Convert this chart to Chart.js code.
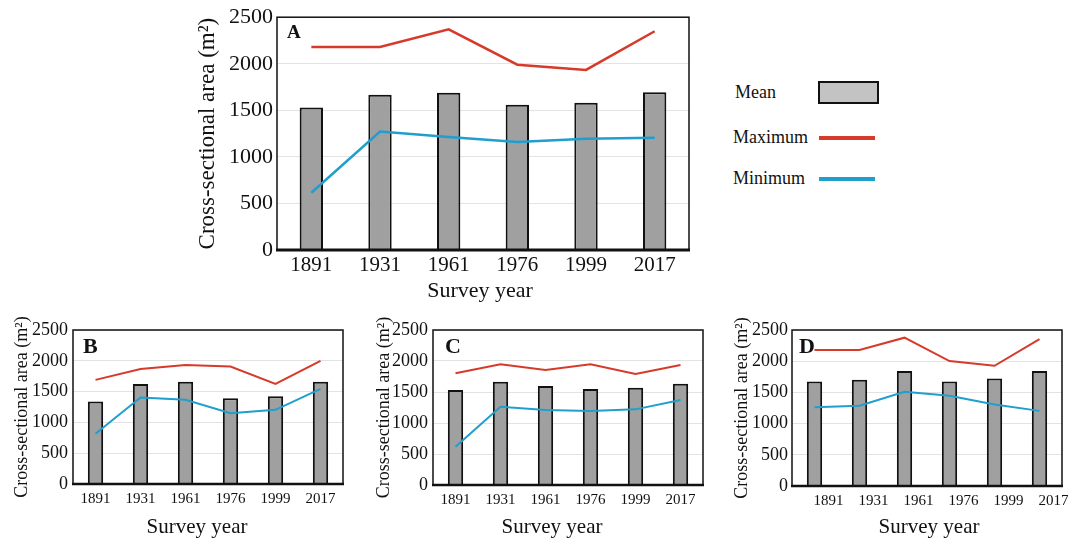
<!DOCTYPE html>
<html lang="en">
<head>
    <meta charset="UTF-8">
    <title>Cross-sectional area by survey year</title>
    <script src="https://cdn.jsdelivr.net/npm/chart.js"></script>
    <style>
        html, body { margin: 0; padding: 0; background: #fff; overflow: hidden; }
        body { width: 1072px; height: 539px; position: relative; font-family: 'Liberation Serif', 'Times New Roman', serif; color: #111; }
        canvas { position: absolute; }
        .legend-text { position: absolute; font-size: 18px; line-height: 20px; }
        .legend-box { position: absolute; left: 818px; top: 81px; width: 57px; height: 19px; background: #c3c3c3; border: 2px solid #111; }
        .legend-line { position: absolute; left: 819px; width: 56px; height: 4px; }
    </style>
</head>
<body>
    <canvas id="chartA"></canvas>
    <canvas id="chartB"></canvas>
    <canvas id="chartC"></canvas>
    <canvas id="chartD"></canvas>

    <!-- legend -->
    <div class="legend-text" style="left:735px; top:82px;">Mean</div>
    <div class="legend-box"></div>
    <div class="legend-text" style="left:733px; top:127px;">Maximum</div>
    <div class="legend-line" style="top:136px; background:#d63a2a;"></div>
    <div class="legend-text" style="left:733px; top:168px;">Minimum</div>
    <div class="legend-line" style="top:177px; background:#1f9fcd;"></div>

    <script>
        // Data
        const years = ['1891', '1931', '1961', '1976', '1999', '2017'];

        const meanA = [1530, 1667, 1688, 1561, 1582, 1695];
        const maxA  = [2180, 2180, 2370, 1990, 1934, 2349];
        const minA  = [615, 1273, 1213, 1160, 1195, 1206];

        const meanB = [1340, 1625, 1658, 1393, 1425, 1658];
        const maxB  = [1690, 1868, 1933, 1906, 1625, 1998];
        const minB  = [815, 1404, 1366, 1150, 1204, 1544];

        const meanC = [1532, 1667, 1597, 1548, 1570, 1634];
        const maxC  = [1801, 1946, 1855, 1946, 1790, 1935];
        const minC  = [618, 1263, 1210, 1194, 1220, 1371];

        const meanD = [1676, 1702, 1842, 1676, 1724, 1842];
        const maxD  = [2179, 2179, 2377, 2002, 1927, 2355];
        const minD  = [1263, 1285, 1510, 1445, 1306, 1204];

        const yTicks = [0, 500, 1000, 1500, 2000, 2500];

        const FONT = "'Liberation Serif', 'Times New Roman', serif";
        const RED = '#d63a2a';
        const BLUE = '#1f9fcd';
        const BAR_FILL = '#a0a0a0';
        const INK = '#111';

        // frame around plot, panel letter and x title
        const panelDecor = {
            id: 'panelDecor',
            afterDraw(chart, args, opts) {
                const {ctx, chartArea: a} = chart;
                ctx.save();
                ctx.strokeStyle = INK;
                ctx.lineWidth = 1.5;
                ctx.strokeRect(a.left, a.top, a.right - a.left, a.bottom - a.top);
                ctx.lineWidth = opts.bottomWidth;
                ctx.beginPath();
                ctx.moveTo(a.left - 1, a.bottom);
                ctx.lineTo(a.right + 1, a.bottom);
                ctx.stroke();

                ctx.fillStyle = INK;
                ctx.textBaseline = 'middle';
                ctx.textAlign = 'left';
                ctx.font = 'bold ' + opts.letterSize + 'px ' + FONT;
                ctx.fillText(opts.letter, opts.letterX, opts.letterY);

                ctx.textAlign = 'center';
                ctx.font = opts.titleSize + 'px ' + FONT;
                ctx.fillText('Survey year', opts.titleX, opts.titleY);
                ctx.restore();
            }
        };

        function makePanel(id, p) {
            const el = document.getElementById(id);
            el.style.left = p.canvas.x + 'px';
            el.style.top = p.canvas.y + 'px';
            el.style.width = p.canvas.w + 'px';
            el.style.height = p.canvas.h + 'px';
            el.width = p.canvas.w;
            el.height = p.canvas.h;

            const yAxisW = p.area.l - p.canvas.x;
            const xAxisH = p.canvas.y + p.canvas.h - p.area.b;

            return new Chart(el, {
                type: 'bar',
                data: {
                    labels: years,
                    datasets: [
                        {
                            type: 'line', label: 'Maximum', data: p.max, order: 0,
                            borderColor: RED, borderWidth: p.lineW, pointRadius: 0, tension: 0
                        },
                        {
                            type: 'line', label: 'Minimum', data: p.min, order: 1,
                            borderColor: BLUE, borderWidth: p.lineW, pointRadius: 0, tension: 0
                        },
                        {
                            type: 'bar', label: 'Mean', data: p.mean, order: 2,
                            backgroundColor: BAR_FILL, borderColor: INK, borderWidth: 2,
                            barPercentage: 0.34, categoryPercentage: 1
                        }
                    ]
                },
                options: {
                    responsive: false,
                    animation: false,
                    layout: {
                        padding: {
                            top: p.area.t - p.canvas.y,
                            right: p.canvas.x + p.canvas.w - p.area.r,
                            left: 0, bottom: 0
                        }
                    },
                    plugins: {
                        legend: { display: false },
                        tooltip: { enabled: false },
                        panelDecor: {
                            letter: p.letter,
                            letterX: p.letterX - p.canvas.x,
                            letterY: p.letterY - p.canvas.y,
                            letterSize: p.letterSize,
                            titleX: p.titleX - p.canvas.x,
                            titleY: p.titleY - p.canvas.y,
                            titleSize: p.xTitleSize,
                            bottomWidth: p.bottomW
                        }
                    },
                    scales: {
                        x: {
                            grid: { display: false, drawTicks: false },
                            border: { display: false },
                            ticks: {
                                color: INK, padding: p.xTickPad, labelOffset: p.labelOffset || 0,
                                maxRotation: 0, autoSkip: false,
                                font: { family: FONT, size: p.xTickSize }
                            },
                            afterFit(s) { s.height = xAxisH; }
                        },
                        y: {
                            min: 0, max: 2500,
                            afterBuildTicks(s) { s.ticks = yTicks.map(v => ({ value: v })); },
                            grid: { color: '#e3e3e3', lineWidth: 1, drawTicks: false },
                            border: { display: false },
                            ticks: {
                                color: INK, padding: p.yTickPad,
                                font: { family: FONT, size: p.yTickSize },
                                callback: v => String(v)
                            },
                            title: {
                                display: true, text: 'Cross-sectional area (m²)', color: INK,
                                padding: { top: p.yTitlePad, bottom: 0 },
                                font: { family: FONT, size: p.yTitleSize }
                            },
                            afterFit(s) { s.width = yAxisW; }
                        }
                    }
                },
                plugins: [panelDecor]
            });
        }

        makePanel('chartA', {
            canvas: { x: 190, y: 0, w: 520, h: 305 },
            area: { l: 277, t: 13, r: 689, b: 250 },
            mean: meanA, max: maxA, min: minA,
            lineW: 2.5, bottomW: 3,
            xTickSize: 21, xTickPad: 3, yTickSize: 22, yTickPad: 4,
            yTitleSize: 23, yTitlePad: 4,
            letter: 'A', letterX: 287, letterY: 33, letterSize: 19,
            titleX: 480, titleY: 291, xTitleSize: 22
        });

        makePanel('chartB', {
            canvas: { x: 0, y: 314, w: 355, h: 225 },
            area: { l: 73, t: 330, r: 343, b: 484 },
            mean: meanB, max: maxB, min: minB,
            lineW: 2, bottomW: 2.5,
            xTickSize: 15, xTickPad: 6, yTickSize: 18, yTickPad: 5,
            yTitleSize: 18, yTitlePad: 11,
            letter: 'B', letterX: 83, letterY: 347, letterSize: 22,
            titleX: 197, titleY: 527, xTitleSize: 21
        });

        makePanel('chartC', {
            canvas: { x: 360, y: 314, w: 355, h: 225 },
            area: { l: 433, t: 330, r: 703, b: 485 },
            mean: meanC, max: maxC, min: minC,
            lineW: 2, bottomW: 2.5,
            xTickSize: 15, xTickPad: 6, yTickSize: 18, yTickPad: 5,
            yTitleSize: 18, yTitlePad: 13,
            letter: 'C', letterX: 445, letterY: 347, letterSize: 22,
            titleX: 552, titleY: 527, xTitleSize: 21
        });

        makePanel('chartD', {
            canvas: { x: 710, y: 314, w: 362, h: 225 },
            area: { l: 792, t: 330, r: 1062, b: 486 },
            mean: meanD, max: maxD, min: minD,
            lineW: 2, bottomW: 2.5,
            xTickSize: 15, xTickPad: 6, yTickSize: 18, yTickPad: 4, labelOffset: 14,
            yTitleSize: 18, yTitlePad: 21,
            letter: 'D', letterX: 799, letterY: 347, letterSize: 22,
            titleX: 929, titleY: 527, xTitleSize: 21
        });
    </script>
</body>
</html>
